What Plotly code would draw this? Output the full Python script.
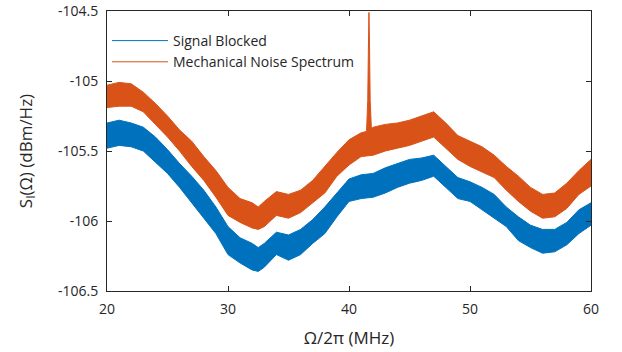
import plotly.graph_objects as go

# Frequency grid (MHz) at which the noise band envelopes were read
freq = [20, 21, 22, 23, 24, 25, 26, 27, 28, 29, 30, 31, 32, 32.5, 33, 34, 35, 36, 37, 38, 39, 40, 41,
        42, 43, 44, 45, 46, 47, 48, 49, 50, 51, 52, 53, 54, 55, 56, 57, 58, 59, 60]

# Signal Blocked: upper / lower envelope of the noisy trace (dBm/Hz)
blocked_upper = [-105.30, -105.28, -105.30, -105.33, -105.40, -105.49, -105.59, -105.68, -105.78, -105.90,
                 -106.04, -106.12, -106.16, -106.19, -106.16, -106.08, -106.10, -106.06, -105.99, -105.90,
                 -105.80, -105.70, -105.67, -105.66, -105.62, -105.59, -105.56, -105.55, -105.53, -105.61,
                 -105.69, -105.72, -105.76, -105.81, -105.90, -105.97, -106.03, -106.06, -106.06, -106.01,
                 -105.92, -105.87]
blocked_lower = [-105.48, -105.46, -105.47, -105.50, -105.58, -105.66, -105.76, -105.87, -105.98, -106.09,
                 -106.24, -106.30, -106.35, -106.36, -106.33, -106.24, -106.28, -106.24, -106.16, -106.09,
                 -105.97, -105.86, -105.84, -105.83, -105.80, -105.76, -105.73, -105.71, -105.68, -105.76,
                 -105.84, -105.86, -105.92, -105.98, -106.04, -106.14, -106.19, -106.23, -106.22, -106.17,
                 -106.09, -106.03]

# Mechanical Noise Spectrum: upper envelope including the narrow mechanical resonance near 41.65 MHz
mech_upper_freq = [20, 21, 22, 23, 24, 25, 26, 27, 28, 29, 30, 31, 32, 32.5, 33, 34, 35, 36, 37, 38, 39, 40, 41,
                   41.45, 41.55, 41.6, 41.65, 41.7, 41.75, 41.85,
                   42, 43, 44, 45, 46, 47, 48, 49, 50, 51, 52, 53, 54, 55, 56, 57, 58, 59, 60]
mech_upper = [-105.03, -105.01, -105.02, -105.08, -105.16, -105.25, -105.35, -105.43, -105.54, -105.64,
              -105.76, -105.84, -105.87, -105.90, -105.86, -105.79, -105.81, -105.78, -105.71, -105.61,
              -105.51, -105.42, -105.37,
              -105.36, -105.14, -104.78, -104.51, -104.78, -105.14, -105.34,
              -105.33, -105.31, -105.30, -105.28, -105.25, -105.22, -105.30, -105.39, -105.43, -105.47,
              -105.53, -105.61, -105.68, -105.76, -105.81, -105.80, -105.73, -105.64, -105.56]
mech_lower = [-105.19, -105.18, -105.18, -105.22, -105.31, -105.40, -105.50, -105.61, -105.71, -105.83,
              -105.96, -106.01, -106.05, -106.06, -106.04, -105.96, -105.98, -105.94, -105.87, -105.80,
              -105.68, -105.60, -105.54, -105.53, -105.50, -105.48, -105.46, -105.43, -105.40, -105.48,
              -105.56, -105.61, -105.65, -105.69, -105.78, -105.86, -105.93, -105.98, -105.97, -105.91,
              -105.81, -105.75]

names = ["Signal Blocked", "Mechanical Noise Spectrum"]
colors = ["#0072BD", "#D95319"]

x_ticks = [20, 30, 40, 50, 60]
y_ticks = [-106.5, -106, -105.5, -105, -104.5]
y_tick_text = ["-106.5", "-106", "-105.5", "-105", "-104.5"]

fig = go.Figure()

bands = [
    (freq, blocked_upper, freq, blocked_lower),
    (mech_upper_freq, mech_upper, freq, mech_lower),
]
for (xu, yu, xl, yl), c in zip(bands, colors):
    fig.add_trace(go.Scatter(
        x=list(xu) + list(xl)[::-1],
        y=list(yu) + list(yl)[::-1],
        mode="lines", fill="toself", fillcolor=c,
        line=dict(color=c, width=1),
        showlegend=False, hoverinfo="skip",
    ))

for n, c in zip(names, colors):
    fig.add_trace(go.Scatter(x=[None], y=[None], mode="lines", name=n,
                             line=dict(color=c, width=1)))

axis_common = dict(
    showline=True, linecolor="#262626", linewidth=1, mirror="ticks",
    ticks="inside", ticklen=5, tickcolor="#262626", showgrid=False, zeroline=False,
    automargin=False,
    tickfont=dict(family="Open Sans", size=14, color="#262626"),
)

fig.update_layout(
    width=622, height=352,
    margin=dict(l=107, r=31, t=11, b=61),
    plot_bgcolor="white", paper_bgcolor="white",
    font=dict(family="Open Sans", color="#262626"),
    xaxis=dict(range=[20, 60], tickvals=x_ticks, ticklabelstandoff=5,
               title=dict(text="Ω/2π (MHz)", font=dict(size=17), standoff=15), **axis_common),
    yaxis=dict(range=[-106.5, -104.5], tickvals=y_ticks, ticktext=y_tick_text, ticklabelstandoff=5,
               title=dict(text="S<sub>I</sub>(Ω) (dBm/Hz)", font=dict(size=17), standoff=21),
               **axis_common),
    legend=dict(x=0.0, y=0.95, xanchor="left", yanchor="top", bgcolor="rgba(0,0,0,0)",
                itemwidth=56,
                font=dict(family="Open Sans", size=14, color="#262626"), tracegroupgap=0),
)

fig.write_html("out.html")
